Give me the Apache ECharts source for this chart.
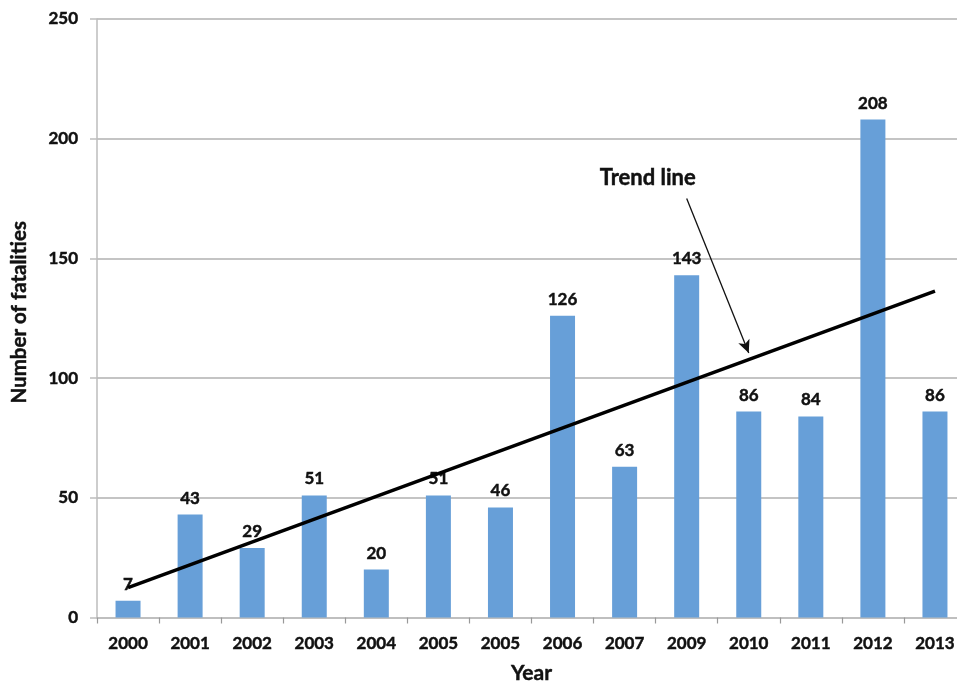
<!DOCTYPE html>
<html>
<head>
<meta charset="utf-8">
<script src="https://cdn.jsdelivr.net/npm/echarts@6/dist/echarts.min.js"></script>
<style>
html,body{margin:0;padding:0;background:#fff;}
#chart{width:957px;height:683px;}
</style>
</head>
<body>
<div id="chart"></div>
<script>
// Data
var years = ['2000','2001','2002','2003','2004','2005','2005','2006','2007','2009','2010','2011','2012','2013'];
var fatalities = [7, 43, 29, 51, 20, 51, 46, 126, 63, 143, 86, 84, 208, 86];
var yTicks = [0, 50, 100, 150, 200, 250];
// Trend line end points (category index, value)
var trendPoints = [[0, 12.5], [13, 136.3]];
// Annotation arrow (category index, value) and its label
var arrowFrom = [9, 175];
var arrowTo = [10, 110.5];
var annotationText = 'Trend line';
var annotationAt = [9, 183.8];

var FONT = 'Lato';
var TXT = '#111';
function bold(size) {
  return { fontFamily: FONT, fontWeight: 'bold', fontSize: size, color: TXT,
           textBorderColor: TXT, textBorderWidth: 0.45 };
}
var chart = echarts.init(document.getElementById('chart'));
chart.setOption({
  animation: false,
  backgroundColor: '#fff',
  grid: { left: 97, top: 19, width: 869, bottom: 65.5, containLabel: false, outerBoundsMode: 'none' },
  xAxis: {
    type: 'category',
    data: years,
    dedplication: false,
    boundaryGap: true,
    name: 'Year',
    nameLocation: 'middle',
    nameGap: 45,
    nameTextStyle: bold(21),
    axisLine: { show: true, lineStyle: { color: '#bdbdbd', width: 1.5 } },
    axisTick: { show: true, length: 6, lineStyle: { color: '#999', width: 1.2 } },
    axisLabel: Object.assign({ interval: 0, margin: 18 }, bold(17)),
    splitLine: { show: false }
  },
  yAxis: {
    type: 'value',
    min: yTicks[0],
    max: yTicks[yTicks.length - 1],
    interval: yTicks[1] - yTicks[0],
    name: 'Number of fatalities',
    nameLocation: 'middle',
    nameGap: 67,
    nameTextStyle: Object.assign({ padding: [0, 0, 0, 12] }, bold(20.5)),
    axisLine: { show: true, lineStyle: { color: '#bdbdbd', width: 1.5 } },
    axisTick: { show: true, length: 7, lineStyle: { color: '#bdbdbd', width: 1.5 } },
    axisLabel: Object.assign({ margin: 19 }, bold(17)),
    splitLine: { show: true, lineStyle: { color: '#c4c4c4', width: 1.8 } }
  },
  series: [
    {
      type: 'bar',
      data: fatalities,
      barWidth: 25,
      itemStyle: { color: '#679fd8' },
      label: Object.assign({ show: true, position: 'top', distance: 8 }, bold(17)),
      z: 2
    },
    {
      type: 'line',
      data: trendPoints,
      symbol: 'none',
      lineStyle: { color: '#000', width: 3.5 },
      z: 5,
      markLine: {
        silent: true,
        symbol: ['none', 'arrow'],
        symbolSize: [9, 13],
        label: { show: false },
        lineStyle: { color: '#111', width: 1.3, type: 'solid' },
        data: [[{ coord: arrowFrom }, { coord: arrowTo }]]
      },
      markPoint: {
        silent: true,
        symbol: 'circle',
        symbolSize: 0,
        label: Object.assign({
          show: true, position: 'inside', offset: [-39, 0],
          formatter: annotationText
        }, bold(22)),
        data: [{ coord: annotationAt }]
      }
    }
  ]
});
</script>
</body>
</html>
